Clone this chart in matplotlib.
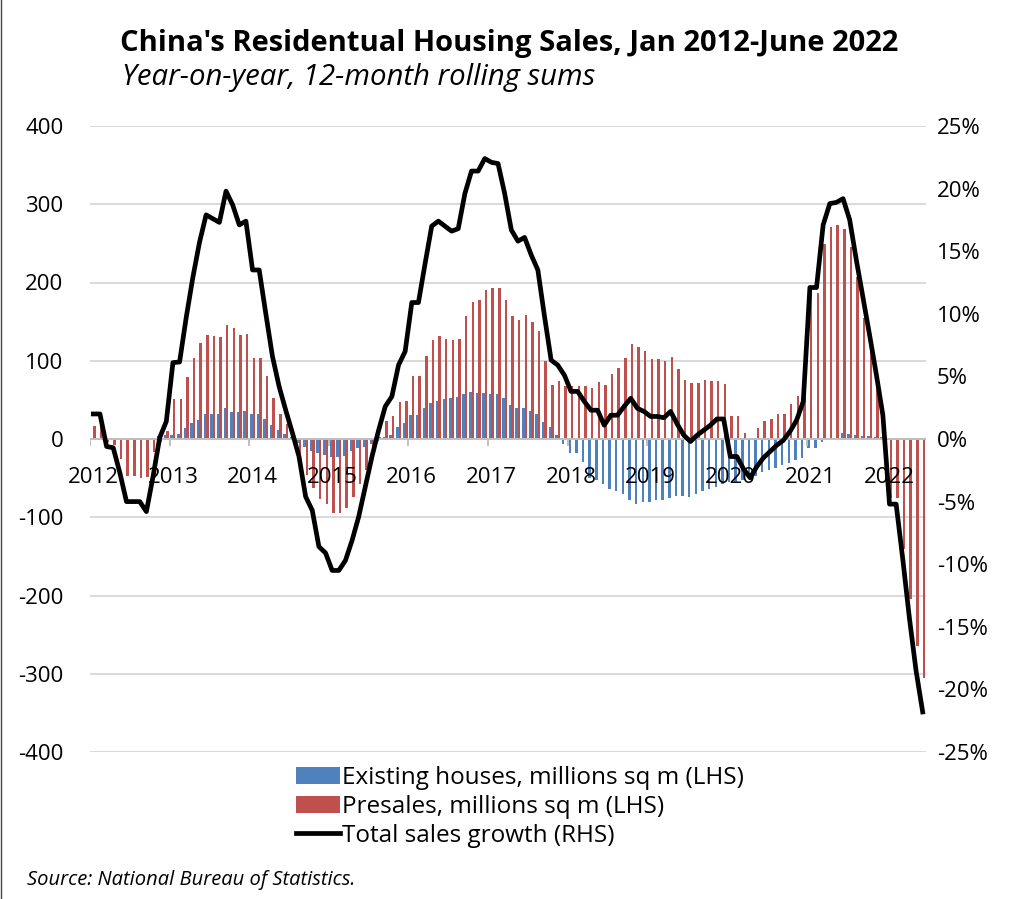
import matplotlib
matplotlib.use('Agg')
import matplotlib.pyplot as plt
import numpy as np
from matplotlib.patches import Patch
from matplotlib.lines import Line2D

plt.rcParams['font.family'] = ['Open Sans', 'DejaVu Sans']

years = [str(y) for y in range(2012, 2023)]

# Existing houses, millions sq m (LHS), monthly Jan 2012 - Jun 2022
existing = [1, 1, -1, -1, -1, -1, -1, 0, 1, 1, 4, 5,
            5, 6, 14, 20, 24, 32, 32, 32, 40, 35, 35, 36,
            32, 32, 25, 18, 12, 6, 2, -5, -10, -15, -18, -20,
            -23, -23, -22, -15, -11, -10, -6, -2, 3, 5.5, 15, 21,
            31, 31, 39, 46, 49, 51, 52, 54, 57, 60, 59, 59,
            57, 57, 52, 44, 40, 40, 36, 32, 22, 15, 5.5, -6,
            -18, -18, -30, -50, -53, -57, -64, -66, -70, -78, -83, -80,
            -80, -78, -78, -76, -73, -73, -74, -70, -67, -64, -61, -57,
            -55, -55, -52, -50, -47, -42, -40, -37, -33, -31, -27, -24,
            -11, -11, -3.5, 0, 1, 7.5, 6.6, 5.3, 4.4, 3.5, 2.2, 2.2,
            1.3, 1, 0, 0, 0, 0]

# Presales, millions sq m (LHS)
presales = [17, 17, -4, -8, -25, -47, -47, -50, -48, -16, -4, 10,
            51, 51, 79, 103, 123, 133, 132, 130, 146, 142, 133, 134,
            104, 104, 80, 52, 32, 19, 5, -20, -46, -62, -77, -83,
            -95, -95, -88, -74, -57, -39, -18, 2, 23, 30, 47, 49,
            80, 80, 106, 126, 132, 128, 127, 128, 157, 175, 177, 190,
            193, 193, 177, 157, 152, 159, 149, 138, 100, 69, 74, 68,
            68, 68, 68, 65, 73, 69, 83, 91, 104, 122, 117, 112,
            102, 102, 100, 105, 90, 76, 71, 71, 76, 74, 74, 70,
            30, 30, 8, 0, 14, 23, 26, 32, 32, 45, 55, 70,
            187, 187, 249, 271, 273, 269, 245, 207, 155, 112, 68, 24,
            -75, -75, -140, -205, -265, -305]

# Total sales growth, % (RHS)
growth = [2.0, 2.0, -0.6, -0.7, -2.7, -5.0, -5.0, -5.0, -5.8, -3.0, 0.1, 1.4,
          6.1, 6.15, 9.7, 12.9, 15.7, 17.9, 17.6, 17.3, 19.8, 18.7, 17.1, 17.4,
          13.5, 13.5, 10.0, 6.6, 4.2, 2.3, 0.5, -1.4, -4.6, -5.7, -8.6, -9.1,
          -10.5, -10.5, -9.7, -8.1, -6.2, -3.8, -1.4, 0.7, 2.6, 3.4, 5.9, 7.0,
          10.9, 10.9, 14.0, 17.0, 17.4, 17.0, 16.6, 16.8, 19.6, 21.4, 21.4, 22.4,
          22.1, 22.0, 19.6, 16.7, 15.8, 16.1, 14.7, 13.5, 9.8, 6.3, 5.9, 5.1,
          3.8, 3.8, 3.0, 2.3, 2.3, 1.1, 1.9, 1.9, 2.6, 3.25, 2.45, 2.2,
          1.8, 1.8, 1.7, 2.2, 1.2, 0.3, -0.2, 0.3, 0.7, 1.1, 1.6, 1.6,
          -1.4, -1.4, -2.4, -3.1, -2.2, -1.5, -1.0, -0.5, -0.1, 0.6, 1.5, 3.0,
          12.1, 12.1, 17.1, 18.8, 18.9, 19.2, 17.5, 14.3, 11.3, 8.3, 5.2, 1.9,
          -5.2, -5.2, -9.6, -14.3, -18.5, -21.8]

left_ticks = list(range(-400, 401, 100))
right_ticks = list(range(-25, 26, 5))

BLUE = '#4F81BD'
RED = '#C0504D'
GRID = '#d9d9d9'

W, H = 1018, 899
fig = plt.figure(figsize=(W / 100, H / 100), dpi=100)
ax = fig.add_axes([90 / W, 1 - 752 / H, (926 - 90) / W, (752 - 126) / H])

n = len(growth)
x = np.arange(n)
ax.set_xlim(-0.5, n - 0.5)
ax.set_ylim(-400, 400)

for v in left_ticks:
    if v != 0:
        ax.axhline(v, color=GRID, lw=1.4, zorder=0)

w = 0.37
ax.bar(x - w / 2, existing, width=w, color=BLUE, zorder=2, linewidth=0)
ax.bar(x + w / 2, presales, width=w, color=RED, zorder=2, linewidth=0)

ax.axhline(0, color='#bfbfbf', lw=1.4, zorder=3)
bounds = np.arange(0, n, 12) - 0.5
ax.vlines(bounds, -9, 0, color='#bfbfbf', lw=1.4, zorder=3)
for k, lab in enumerate(years):
    ax.text(12 * k, -49, lab, ha='center', va='center', fontsize=16, zorder=4)

ax.set_xticks([])
ax.set_yticks(left_ticks)
ax.set_yticklabels([str(v) for v in left_ticks])
ax.tick_params(axis='y', length=0, pad=19, labelsize=16)
for s in ax.spines.values():
    s.set_visible(False)

ax2 = ax.twinx()
ax2.set_ylim(-25, 25)
ax2.plot(x, growth, color='black', lw=3.4, solid_joinstyle='round', zorder=5)
ax2.set_yticks(right_ticks)
ax2.set_yticklabels([f"{v}%" for v in right_ticks])
ax2.tick_params(axis='y', length=0, pad=8, labelsize=16)
for s in ax2.spines.values():
    s.set_visible(False)

fig.text(0.5, 1 - 43 / H, "China's Residentual Housing Sales, Jan 2012-June 2022",
         ha='center', va='center', fontsize=21, fontweight='bold')
fig.text(122 / W, 1 - 78 / H, "Year-on-year, 12-month rolling sums",
         ha='left', va='center', fontsize=21.2, style='italic')

handles = [Patch(facecolor=BLUE, edgecolor='none'),
           Patch(facecolor=RED, edgecolor='none'),
           Line2D([0], [0], color='black', lw=3.4)]
labels = ['Existing houses, millions sq m (LHS)',
          'Presales, millions sq m (LHS)',
          'Total sales growth (RHS)']
fig.legend(handles, labels, loc='upper left', bbox_to_anchor=(296 / W, 1 - 766 / H),
           frameon=False, fontsize=17.5, handlelength=1.8, handletextpad=0.08,
           labelspacing=0.2, borderaxespad=0, borderpad=0)

fig.text(27 / W, 1 - 880 / H, "Source: National Bureau of Statistics.",
         ha='left', va='center', fontsize=14.5, style='italic')

fig.add_artist(Line2D([0.5 / W, 0.5 / W], [0, 1], color='#444444', lw=1))

fig.savefig('out.png', dpi=100)
